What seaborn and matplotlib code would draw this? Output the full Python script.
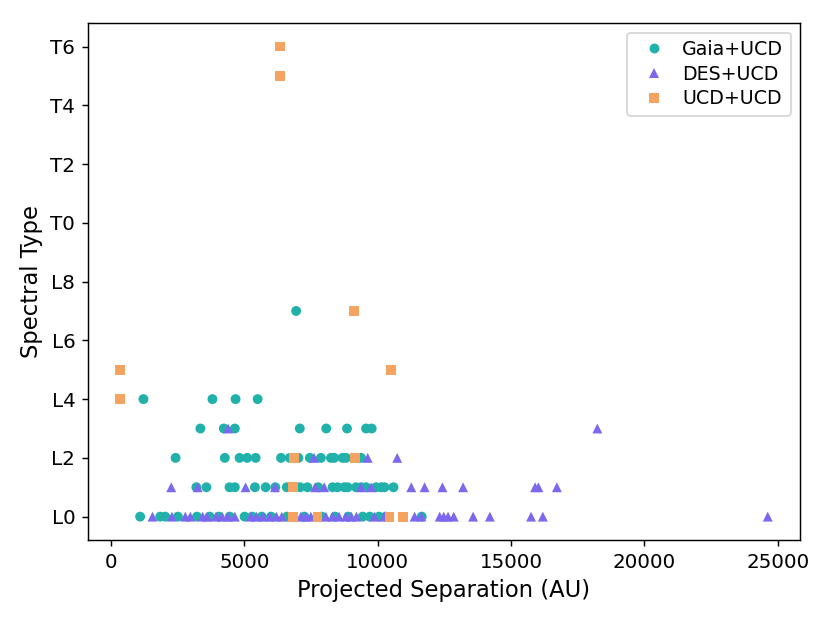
import matplotlib
matplotlib.use("Agg")
import matplotlib.pyplot as plt
import seaborn as sns
import pandas as pd

# spectral type code: L0 = 0 ... L9 = 9, T0 = 10 ... T6 = 16
spt_ticks = [0, 2, 4, 6, 8, 10, 12, 14, 16]
spt_labels = ["L0", "L2", "L4", "L6", "L8", "T0", "T2", "T4", "T6"]

# Gaia+UCD pairs (projected separation in AU, spectral type code)
gaia_sep = [6940,
            1216, 3803, 4669, 5497,
            3351, 4228, 4642, 7078, 8069, 8848, 9563, 9774,
            2421, 4266, 4819, 5105, 5422, 6374, 6702, 7026, 7455, 7869, 8245, 8370,
            8682, 8810, 9375,
            3200, 3577, 4443, 4642, 5395, 5798, 6160, 6589, 7090, 7365, 7770, 8306,
            8495, 8746, 8871, 9187, 9375, 9563, 9940, 10128, 10253, 10591,
            1092, 1845, 2033, 2508, 3223, 3700, 4050, 4450, 5008, 5300, 5650, 6000,
            6600, 7250, 7900, 8400, 8900, 9436, 9700, 10050, 10300, 11650]
gaia_spt = [7,
            4, 4, 4, 4,
            3, 3, 3, 3, 3, 3, 3, 3,
            2, 2, 2, 2, 2, 2, 2, 2, 2, 2, 2, 2,
            2, 2, 2,
            1, 1, 1, 1, 1, 1, 1, 1, 1, 1, 1, 1,
            1, 1, 1, 1, 1, 1, 1, 1, 1, 1,
            0, 0, 0, 0, 0, 0, 0, 0, 0, 0, 0, 0,
            0, 0, 0, 0, 0, 0, 0, 0, 0, 0]

# DES+UCD pairs
des_sep = [4390, 18234,
           7617, 9624, 10730,
           2258, 3250, 5045, 6148, 7654, 7993, 9375, 9752, 11258, 11758, 12425,
           13200, 15900, 16024, 16717,
           1555, 2283, 2786, 2974, 3437, 3600, 3940, 4164, 4380, 4642, 5233, 5450,
           5700, 5950, 6200, 6400, 7116, 7300, 7492, 8057, 8300, 8550, 8800, 9000,
           9200, 9876, 10250, 11382, 11634, 12323, 12474, 12636, 12850, 13577,
           14205, 15749, 16190, 24623]
des_spt = [3, 3,
           2, 2, 2,
           1, 1, 1, 1, 1, 1, 1, 1, 1, 1, 1,
           1, 1, 1, 1,
           0, 0, 0, 0, 0, 0, 0, 0, 0, 0, 0, 0,
           0, 0, 0, 0, 0, 0, 0, 0, 0, 0, 0, 0,
           0, 0, 0, 0, 0, 0, 0, 0, 0, 0,
           0, 0, 0, 0]

# UCD+UCD pairs
ucd_sep = [6340, 6340, 9123, 350, 10486, 350, 6864, 9149, 6826,
           6838, 7741, 10441, 10942]
ucd_spt = [16, 15, 7, 5, 5, 4, 2, 2, 1,
           0, 0, 0, 0]

df = pd.DataFrame({
    "sep": gaia_sep + des_sep + ucd_sep,
    "spt": gaia_spt + des_spt + ucd_spt,
    "sample": ["Gaia+UCD"] * len(gaia_sep) + ["DES+UCD"] * len(des_sep)
              + ["UCD+UCD"] * len(ucd_sep),
})

sns.set_style("ticks", {"axes.edgecolor": "black", "xtick.color": "black",
                        "ytick.color": "black", "text.color": "black",
                        "axes.labelcolor": "black"})
plt.rcParams["font.family"] = ["DejaVu Sans"]

colors = {"Gaia+UCD": "#20b2aa", "DES+UCD": "#7b68ee", "UCD+UCD": "#f4a460"}
markers = {"Gaia+UCD": "o", "DES+UCD": "^", "UCD+UCD": "s"}

fig = plt.figure(figsize=(830 / 130, 623 / 130), dpi=130)
ax = fig.add_axes([0.106, 0.133, 0.858, 0.830])
sns.scatterplot(data=df, x="sep", y="spt", hue="sample", style="sample",
                palette=colors, markers=markers, s=30, linewidth=0, ax=ax)

ax.set_yticks(spt_ticks)
ax.set_yticklabels(spt_labels)
ax.tick_params(labelsize=11)
ax.set_xlabel("Projected Separation (AU)", fontsize=12.5)
ax.set_ylabel("Spectral Type", fontsize=12.5)
sns.move_legend(ax, "upper right", title=None, fontsize=10.5, frameon=True,
                labelspacing=0.3, handletextpad=0.5)

fig.savefig("out.png", dpi=130)
